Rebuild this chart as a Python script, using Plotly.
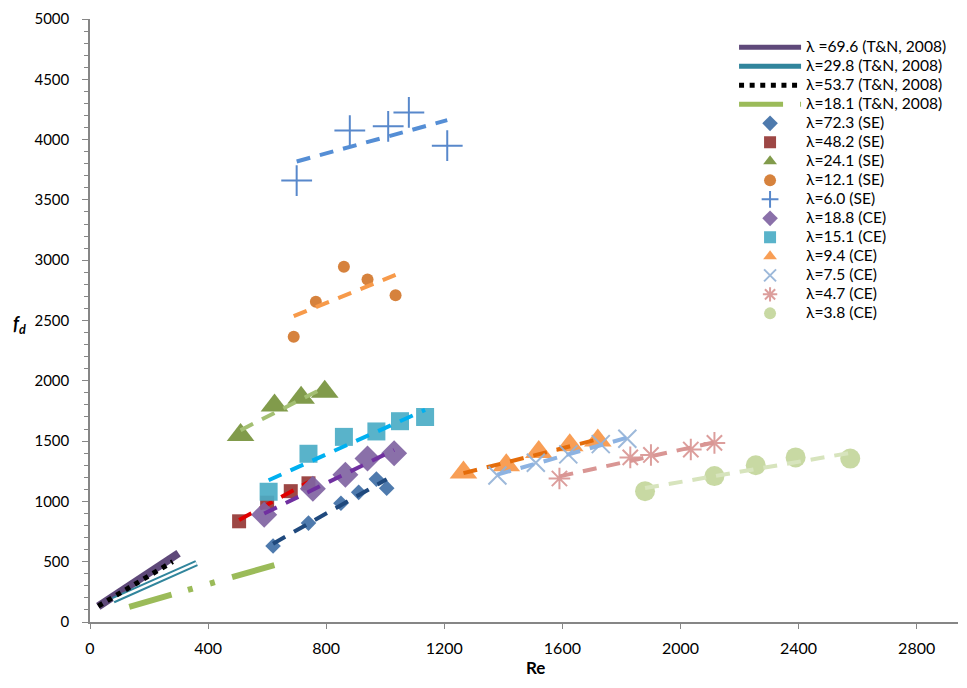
import numpy as np
import plotly.graph_objects as go

# ---------------- data ----------------
# T&N (2008) reference lines
tn696_re = [28, 300]
tn696_fd = [130, 570]
tn298_re = [79, 361]
tn298_fd = [181, 488]
tn537_re = [28, 280]
tn537_fd = [132, 500]
tn181_re = [133, 640]
tn181_fd = [126, 483]

# SE series
se723_re = [620, 740, 850, 910, 970, 1005]
se723_fd = [630, 820, 985, 1075, 1185, 1110]
se482_re = [505, 600, 680, 740]
se482_fd = [835, 990, 1085, 1150]
se241_re = [510, 625, 715, 795]
se241_fd = [1550, 1795, 1860, 1910]
se121_re = [690, 765, 860, 940, 1035]
se121_fd = [2365, 2655, 2945, 2840, 2710]
se60_re = [700, 880, 1010, 1080, 1210]
se60_fd = [3660, 4075, 4110, 4225, 3950]

# CE series
ce188_re = [590, 755, 865, 940, 1030]
ce188_fd = [890, 1105, 1220, 1355, 1400]
ce151_re = [605, 740, 860, 970, 1050, 1135]
ce151_fd = [1080, 1395, 1535, 1580, 1665, 1700]
ce94_re = [1265, 1410, 1520, 1625, 1720]
ce94_fd = [1240, 1300, 1410, 1465, 1505]
ce75_re = [1380, 1510, 1620, 1730, 1820]
ce75_fd = [1215, 1320, 1390, 1475, 1520]
ce47_re = [1590, 1830, 1900, 2035, 2115]
ce47_fd = [1190, 1365, 1385, 1430, 1485]
ce38_re = [1880, 2115, 2255, 2390, 2575]
ce38_fd = [1085, 1210, 1300, 1365, 1355]

x_ticks = [0, 400, 800, 1200, 1600, 2000, 2400, 2800]
y_ticks = [0, 500, 1000, 1500, 2000, 2500, 3000, 3500, 4000, 4500, 5000]


def lg(t):
    return '<span style="font-size:15.6px">' + t + '</span>'


fig = go.Figure()

# ---------------- T&N lines ----------------
fig.add_trace(go.Scatter(x=tn696_re, y=tn696_fd, mode="lines",
                         name=lg("λ =69.6 (T&N, 2008)"),
                         line=dict(color="#5f497a", width=8)))
fig.add_trace(go.Scatter(x=tn298_re, y=tn298_fd, mode="lines",
                         name=lg("λ=29.8 (T&N, 2008)"),
                         line=dict(color="#31859c", width=6.5)))
fig.add_trace(go.Scatter(x=tn298_re, y=tn298_fd, mode="lines",
                         showlegend=False, hoverinfo="skip",
                         line=dict(color="white", width=2.5)))
fig.add_trace(go.Scatter(x=tn537_re, y=tn537_fd, mode="lines",
                         name=lg("λ=53.7 (T&N, 2008)"),
                         line=dict(color="black", width=5, dash="5px,5.6px")))
fig.add_trace(go.Scatter(x=tn181_re, y=tn181_fd, mode="lines",
                         name=lg("λ=18.1 (T&N, 2008)"),
                         line=dict(color="#9bbb59", width=6,
                                   dash="44px,17px,5px,18px,5px,18px")))

# ---------------- marker series + linear trend lines ----------------
series = [
    ("λ=72.3 (SE)", se723_re, se723_fd, "diamond", 12, "#3f6fa6", None, "#1f497d"),
    ("λ=48.2 (SE)", se482_re, se482_fd, "square", 14, "#953735", None, "#e00000"),
    ("λ=24.1 (SE)", se241_re, se241_fd, "triangle-up", 24, "#76923c", None, "#a3bf72"),
    ("λ=12.1 (SE)", se121_re, se121_fd, "circle", 12, "#d2772d", None, "#f79a4a"),
    ("λ=6.0 (SE)", se60_re, se60_fd, "cross-thin-open", 22, "#4a7ec7", 2, "#558ed5"),
    ("λ=18.8 (CE)", ce188_re, ce188_fd, "diamond", 20, "#8064a2", None, "#7030a0"),
    ("λ=15.1 (CE)", ce151_re, ce151_fd, "square", 18, "#4bacc6", None, "#00b0f0"),
    ("λ=9.4 (CE)", ce94_re, ce94_fd, "triangle-up", 24, "#f79646", None, "#e46c0a"),
    ("λ=7.5 (CE)", ce75_re, ce75_fd, "x-thin-open", 18, "#95b3d7", 2, "#8db3e2"),
    ("λ=4.7 (CE)", ce47_re, ce47_fd, "asterisk-open", 18, "#d99694", 2, "#d99694"),
    ("λ=3.8 (CE)", ce38_re, ce38_fd, "circle", 20, "#c3d69b", None, "#d7e4bd"),
]

for name, xs, ys, sym, size, col, lw, tcol in series:
    mk = dict(symbol=sym, size=size, color=col, opacity=0.92)
    if lw:
        mk["line"] = dict(color=col, width=lw)
    else:
        mk["line"] = dict(width=0)
    fig.add_trace(go.Scatter(x=xs, y=ys, mode="markers", name=lg(name), marker=mk))
    a, b = np.polyfit(xs, ys, 1)
    tx = [min(xs), max(xs)]
    ty = [a * t + b for t in tx]
    fig.add_trace(go.Scatter(x=tx, y=ty, mode="lines", showlegend=False,
                             hoverinfo="skip",
                             line=dict(color=tcol, width=4, dash="14px,10px")))

axis_col = "#868686"
fig.update_layout(
    width=951, height=672,
    margin=dict(l=82, r=1, t=3, b=58),
    plot_bgcolor="white", paper_bgcolor="white",
    font=dict(family="Lato, Calibri, sans-serif", size=15, color="black"),
    xaxis=dict(range=[0, 2940], tickvals=x_ticks, ticktext=[str(v) for v in x_ticks],
               showgrid=False, zeroline=False, showline=True, linecolor=axis_col,
               linewidth=1.5, ticks="outside", ticklen=5, tickcolor=axis_col,
               ticklabelstandoff=6, ticklabeloverflow="allow",
               tickfont=dict(family="Liberation Sans Narrow, Lato, sans-serif", size=16)),
    yaxis=dict(range=[0, 5000], tickvals=y_ticks, showgrid=False, zeroline=False,
               showline=True, linecolor=axis_col, linewidth=1.5, ticks="outside",
               ticklen=6, tickcolor=axis_col, ticklabelstandoff=10,
               ticklabeloverflow="allow",
               minor=dict(dtick=100, ticks="outside", ticklen=4, tickcolor=axis_col,
                          showgrid=False),
               tickfont=dict(size=15)),
    legend=dict(x=0.742, y=0.977, xanchor="left", yanchor="top",
                bgcolor="rgba(0,0,0,0)", font=dict(size=12.3),
                itemsizing="constant", itemwidth=62, tracegroupgap=0),
    showlegend=True,
)

fig.add_annotation(text="<b>Re</b>", xref="paper", yref="paper",
                   x=0.5127, y=-0.0955, yanchor="bottom", showarrow=False,
                   font=dict(size=17))
fig.add_annotation(text="<b><i>f</i></b><sub><b><i>d</i></b></sub>", xref="paper",
                   yref="paper", x=-0.091, xanchor="left", y=0.4926, showarrow=False,
                   font=dict(size=18))

fig.write_html("out.html")
